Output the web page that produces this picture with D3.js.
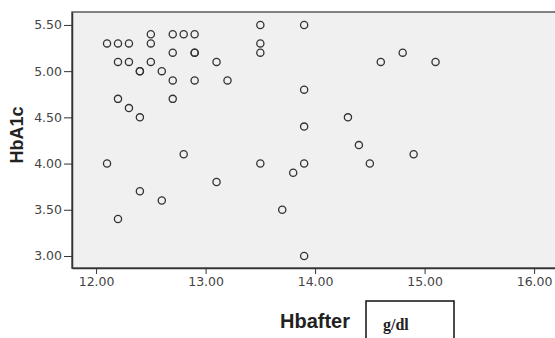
<!DOCTYPE html>
<html>
<head>
  <meta charset="utf-8">
  <title>HbA1c vs Hbafter</title>
  <style>
    body { margin: 0; background: #fff; }
    .tick text { font-family: "DejaVu Sans"; font-size: 12.5px; fill: #444; }
    .tick line { stroke: #333; }
    .title { font-family: "Liberation Sans"; font-weight: bold; fill: #222; }
  </style>
</head>
<body>
  <script src="https://cdn.jsdelivr.net/npm/d3@7"></script>
  <script>
    // Hbafter (g/dl) and HbA1c
    var hbAfter = [13.5, 13.9, 12.5, 12.7, 12.8, 12.9, 12.1, 12.2, 12.3, 12.5,
      13.5, 13.5, 12.7, 12.9, 12.9, 12.2, 12.3, 12.5, 13.1, 12.4,
      12.4, 12.6, 12.7, 12.9, 13.2, 13.9, 12.2, 12.7, 12.3, 12.4,
      13.9, 14.8, 14.6, 15.1, 14.3, 12.1, 12.8, 13.5, 13.9, 13.8,
      13.1, 12.4, 12.6, 12.2, 13.7, 13.9, 14.4, 14.5, 14.9];
    var hbA1c = [5.5, 5.5, 5.4, 5.4, 5.4, 5.4, 5.3, 5.3, 5.3, 5.3,
      5.3, 5.2, 5.2, 5.2, 5.2, 5.1, 5.1, 5.1, 5.1, 5.0,
      5.0, 5.0, 4.9, 4.9, 4.9, 4.8, 4.7, 4.7, 4.6, 4.5,
      4.4, 5.2, 5.1, 5.1, 4.5, 4.0, 4.1, 4.0, 4.0, 3.9,
      3.8, 3.7, 3.6, 3.4, 3.5, 3.0, 4.2, 4.0, 4.1];
    var xTicks = [12, 13, 14, 15, 16];
    var yTicks = [3.0, 3.5, 4.0, 4.5, 5.0, 5.5];

    var W = 555, H = 338;
    var plot = { left: 72, top: 12, right: 556, bottom: 268 };

    var x = d3.scaleLinear().domain([11.78, 16.2]).range([plot.left, plot.right]);
    var y = d3.scaleLinear().domain([2.87, 5.64]).range([plot.bottom, plot.top]);

    var svg = d3.select("body").append("svg")
      .attr("width", W)
      .attr("height", H);

    // plot background + frame
    svg.append("rect")
      .attr("x", plot.left)
      .attr("y", plot.top)
      .attr("width", plot.right - plot.left)
      .attr("height", plot.bottom - plot.top)
      .attr("fill", "#f0f0f0")
      .attr("stroke", "#5a5a5a")
      .attr("stroke-width", 1.5);

    var yAxis = svg.append("g")
      .attr("transform", "translate(" + plot.left + ",0)")
      .call(d3.axisLeft(y).tickValues(yTicks).tickFormat(d3.format(".2f"))
        .tickSize(8).tickPadding(2).tickSizeOuter(0));
    yAxis.select(".domain").attr("stroke", "#333").attr("stroke-width", 1.5);

    var xAxis = svg.append("g")
      .attr("transform", "translate(0," + plot.bottom + ")")
      .call(d3.axisBottom(x).tickValues(xTicks).tickFormat(d3.format(".2f"))
        .tickSize(6).tickPadding(3).tickSizeOuter(0));
    xAxis.select(".domain").attr("stroke", "#333").attr("stroke-width", 1.5);

    // points
    var pts = hbAfter.map(function (v, i) { return { x: v, y: hbA1c[i] }; });
    svg.append("g")
      .selectAll("circle")
      .data(pts)
      .join("circle")
      .attr("cx", d => x(d.x))
      .attr("cy", d => y(d.y))
      .attr("r", 3.6)
      .attr("fill", "none")
      .attr("stroke", "#333")
      .attr("stroke-width", 1.3);

    // axis titles
    svg.append("text")
      .attr("class", "title")
      .attr("transform", "translate(23,135) rotate(-90)")
      .attr("text-anchor", "middle")
      .style("font-size", "18px")
      .text("HbA1c");

    svg.append("text")
      .attr("class", "title")
      .attr("x", 280)
      .attr("y", 328)
      .style("font-size", "20px")
      .text("Hbafter");

    // unit box
    svg.append("rect")
      .attr("x", 366)
      .attr("y", 301)
      .attr("width", 88)
      .attr("height", 50)
      .attr("fill", "#fff")
      .attr("stroke", "#111")
      .attr("stroke-width", 1.5);
    svg.append("text")
      .attr("x", 383)
      .attr("y", 330)
      .style("font-family", "Liberation Serif")
      .style("font-weight", "bold")
      .style("font-size", "16px")
      .attr("fill", "#222")
      .text("g/dl");
  </script>
</body>
</html>
